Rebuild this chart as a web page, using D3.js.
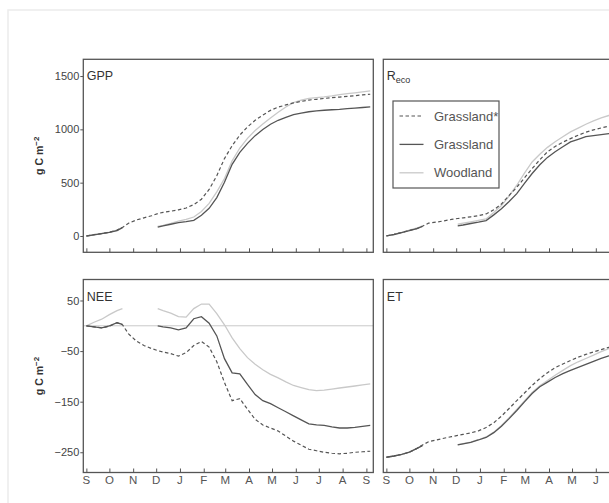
<!DOCTYPE html>
<html>
<head>
<meta charset="utf-8">
<script src="https://cdn.jsdelivr.net/npm/d3@7/dist/d3.min.js"></script>
<style>
  body { margin: 0; background: #fff; }
  #chart { width: 609px; height: 503px; overflow: hidden; }
  text { font-family: "Liberation Sans", Arial, sans-serif; }
</style>
</head>
<body>
<div id="chart"></div>
<script>
// days since 1 September
var days = [0, 10, 20, 30, 40, 47, 55, 65, 75, 85, 93, 100, 110, 120, 130, 140, 150, 160, 170, 180,
    190, 200, 210, 220, 230, 240, 250, 260, 270, 280, 290, 300, 310, 320, 330, 340, 350, 360, 370];
var monthDays = [0, 30, 61, 91, 122, 153, 181, 212, 242, 273, 303, 334, 365];
var monthLabels = ["S", "O", "N", "D", "J", "F", "M", "A", "M", "J", "J", "A", "S"];
var seriesNames = ["Grassland*", "Grassland", "Woodland"];
var n = null;

var gppStar = [0, 12, 22, 35, 55, 80, 120, 150, 170, 190, 210, 222, 232, 245, 262, 295, 345, 436, 565, 726,
    847, 946, 1023, 1085, 1134, 1178, 1208, 1229, 1248, 1262, 1275, 1282, 1290, 1297, 1303, 1310, 1316, 1323, 1329];
var gppGrass = [0, 10, 22, 33, 50, 78, n, n, n, n, 84, 95, 110, 125, 135, 147, 194, 260, 360, 504,
    672, 785, 869, 941, 998, 1048, 1085, 1113, 1138, 1152, 1165, 1173, 1179, 1184, 1188, 1195, 1200, 1205, 1210];
var gppWood = [0, 12, 25, 37, 55, 82, n, n, n, n, 90, 100, 118, 140, 155, 178, 229, 306, 413, 538,
    704, 825, 916, 989, 1051, 1107, 1160, 1210, 1251, 1273, 1290, 1298, 1304, 1313, 1326, 1336, 1343, 1351, 1360];

var recoStar = [0, 15, 33, 52, 70, 92, 120, 130, 142, 155, 164, 170, 180, 191, 207, 245, 300, 380, 457, 545,
    632, 715, 790, 840, 880, 913, 945, 973, 995, 1013, 1030, 1045, 1060, 1075, 1088, 1100, 1110, 1120, 1130];
var recoGrass = [0, 14, 32, 50, 70, 90, n, n, n, n, 95, 103, 117, 130, 145, 198, 255, 323, 397, 493,
    586, 668, 737, 790, 837, 882, 906, 931, 942, 951, 960, 968, 976, 983, 990, 996, 1002, 1008, 1013];
var recoWood = [0, 16, 35, 55, 75, 95, n, n, n, n, 110, 120, 133, 147, 160, 220, 285, 375, 476, 589,
    694, 767, 831, 884, 930, 976, 1012, 1048, 1079, 1107, 1130, 1150, 1168, 1185, 1200, 1213, 1225, 1236, 1245];

var neeStar = [0, -2, -4, -1, 6, 2, -16, -30, -39, -45, -49, -52, -55, -60, -53, -39, -31, -42, -71, -112,
    -148, -144, -165, -185, -196, -202, -208, -218, -228, -236, -244, -247, -250, -252, -253, -252, -250, -249, -248];
var neeGrass = [0, -2, -4, 0, 6, 3, n, n, n, n, 0, -2, -4, -8, -4, 14, 18, 5, -20, -65,
    -93, -95, -116, -136, -148, -154, -162, -170, -178, -186, -194, -196, -197, -200, -202, -202, -201, -199, -197];
var neeWood = [0, 7, 13, 22, 30, 34, n, n, n, n, 34, 30, 25, 18, 17, 34, 43, 43, 24, 2,
    -24, -45, -63, -76, -87, -96, -103, -111, -118, -122, -126, -128, -127, -125, -123, -121, -119, -117, -115];

var etStar = [0, 5, 11, 20, 35, 48, 61, 68, 75, 81, 86, 90, 96, 104, 117, 136, 162, 192, 223, 253,
    283, 310, 333, 353, 367, 381, 394, 405, 415, 424, 433, 441, 449, 456, 463, 469, 475, 480, 485];
var etGrass = [0, 5, 11, 20, 35, 46, n, n, n, n, 49, 53, 59, 68, 78, 97, 122, 152, 184, 218,
    251, 278, 296, 314, 329, 342, 354, 366, 378, 389, 399, 409, 418, 426, 434, 441, 448, 454, 460];
var etWood = [0, 5, 11, 20, 35, 47, n, n, n, n, 50, 54, 60, 69, 80, 99, 125, 156, 188, 222,
    255, 282, 302, 323, 342, 361, 376, 389, 402, 416, 428, 439, 449, 458, 466, 474, 481, 487, 493];

var yTicksGpp = [0, 500, 1000, 1500];
var yTicksNee = [50, -50, -150, -250];

(function() {
    var width = 700;
    var height = 503;
    var viewW = 609;
    var panelW = 290;
    var panelH = 193;
    var dark = "#555";
    var light = "#c9c9c9";

    var svg = d3.select("#chart").append("svg")
        .attr("width", width)
        .attr("height", height);

    // faint page frame
    svg.append("rect")
        .attr("x", 8).attr("y", 10)
        .attr("width", 760).attr("height", 560)
        .attr("fill", "none")
        .attr("stroke", "#ececec")
        .attr("stroke-width", 1.5);

    var styles = [
        {color: dark, dash: "3.5,2.5", width: 1.2},
        {color: dark, dash: null, width: 1.3},
        {color: light, dash: null, width: 1.3}
    ];

    var panels = [
        {label: "GPP", left: 83.3, top: 59.3, domain: [-153, 1657], ticks: yTicksGpp, data: [gppStar, gppGrass, gppWood], months: false},
        {label: "R", sub: "eco", left: 383.3, top: 59.3, domain: [-153, 1657], ticks: null, data: [recoStar, recoGrass, recoWood], months: false, legend: true},
        {label: "NEE", left: 83.3, top: 279.5, domain: [-290, 91.5], ticks: yTicksNee, data: [neeStar, neeGrass, neeWood], months: true, zero: true},
        {label: "ET", left: 383.3, top: 279.5, domain: [-60, 700], ticks: null, data: [etStar, etGrass, etWood], months: true}
    ];

    panels.forEach(function(p, pi) {
        var x = d3.scaleLinear().domain([-4, 374]).range([p.left, p.left + panelW]);
        var y = d3.scaleLinear().domain(p.domain).range([p.top + panelH, p.top]);

        var clipId = "clip" + pi;
        svg.append("clipPath").attr("id", clipId)
            .append("rect")
            .attr("x", p.left).attr("y", p.top)
            .attr("width", panelW).attr("height", panelH);

        var g = svg.append("g");
        var plot = g.append("g").attr("clip-path", "url(#" + clipId + ")");

        if (p.zero) {
            plot.append("line")
                .attr("x1", p.left).attr("x2", p.left + panelW)
                .attr("y1", y(0)).attr("y2", y(0))
                .attr("stroke", light)
                .attr("stroke-width", 1);
        }

        var line = d3.line()
            .defined(function(d) { return d[1] !== null; })
            .x(function(d) { return x(d[0]); })
            .y(function(d) { return y(d[1]); });

        // woodland first, grassland* last so it sits on top
        [2, 1, 0].forEach(function(si) {
            var pts = days.map(function(d, i) { return [d, p.data[si][i]]; });
            plot.append("path")
                .datum(pts)
                .attr("d", line)
                .attr("fill", "none")
                .attr("stroke", styles[si].color)
                .attr("stroke-width", styles[si].width)
                .attr("stroke-dasharray", styles[si].dash);
        });

        // x ticks point inwards
        g.append("g")
            .attr("transform", "translate(0," + (p.top + panelH) + ")")
            .call(d3.axisTop(x).tickValues(monthDays).tickSize(4).tickFormat(""))
            .call(function(a) {
                a.select(".domain").remove();
                a.selectAll("line").attr("stroke", dark).attr("stroke-width", 1);
            });

        if (p.months) {
            // labels past the right edge of the page are not shown
            var shown = monthDays.filter(function(d) { return x(d) < viewW - 3; });
            g.selectAll(".month")
                .data(shown)
                .enter().append("text")
                .attr("x", function(d) { return x(d); })
                .attr("y", p.top + panelH + 11)
                .attr("text-anchor", "middle")
                .attr("font-size", 11.5)
                .attr("fill", "#555")
                .text(function(d, i) { return monthLabels[i]; });
        }

        if (p.ticks) {
            g.append("g")
                .attr("transform", "translate(" + p.left + ",0)")
                .call(d3.axisLeft(y).tickValues(p.ticks).tickSize(3).tickPadding(1)
                    .tickFormat(d3.format("d")))
                .call(function(a) {
                    a.select(".domain").remove();
                    a.selectAll("line").attr("stroke", dark);
                    a.selectAll("text")
                        .attr("font-size", 11)
                        .attr("fill", "#444")
                        .attr("font-family", "Liberation Sans, Arial, sans-serif");
                });

            var yl = g.append("text")
                .attr("transform", "translate(43," + (p.top + panelH / 2) + ") rotate(-90)")
                .attr("text-anchor", "middle")
                .attr("font-size", 10.5)
                .attr("font-weight", "bold")
                .attr("fill", "#333");
            yl.append("tspan").text("g C m");
            yl.append("tspan").attr("dy", -4).attr("font-size", 8).text("\u22122");
        }

        g.append("rect")
            .attr("x", p.left).attr("y", p.top)
            .attr("width", panelW).attr("height", panelH)
            .attr("fill", "none")
            .attr("stroke", dark)
            .attr("stroke-width", 1.3);

        var lab = g.append("text")
            .attr("x", p.left + 3.5)
            .attr("y", p.top + 21)
            .attr("font-size", 12.5)
            .attr("fill", "#333");
        lab.append("tspan").text(p.label);
        if (p.sub) {
            lab.append("tspan").attr("dy", 3).attr("font-size", 9).text(p.sub);
        }

        if (p.legend) {
            var lg = g.append("g");
            lg.append("rect")
                .attr("x", 393).attr("y", 101)
                .attr("width", 106).attr("height", 87)
                .attr("fill", "#fff")
                .attr("stroke", dark)
                .attr("stroke-width", 1.2);
            seriesNames.forEach(function(name, i) {
                var ly = 116 + i * 28.4;
                lg.append("line")
                    .attr("x1", 399.5).attr("x2", 423.5)
                    .attr("y1", ly).attr("y2", ly)
                    .attr("stroke", styles[i].color)
                    .attr("stroke-width", styles[i].width)
                    .attr("stroke-dasharray", styles[i].dash);
                lg.append("text")
                    .attr("x", 434)
                    .attr("y", ly + 4.5)
                    .attr("font-size", 13)
                    .attr("fill", "#555")
                    .text(name);
            });
        }
    });
})();
</script>
</body>
</html>
